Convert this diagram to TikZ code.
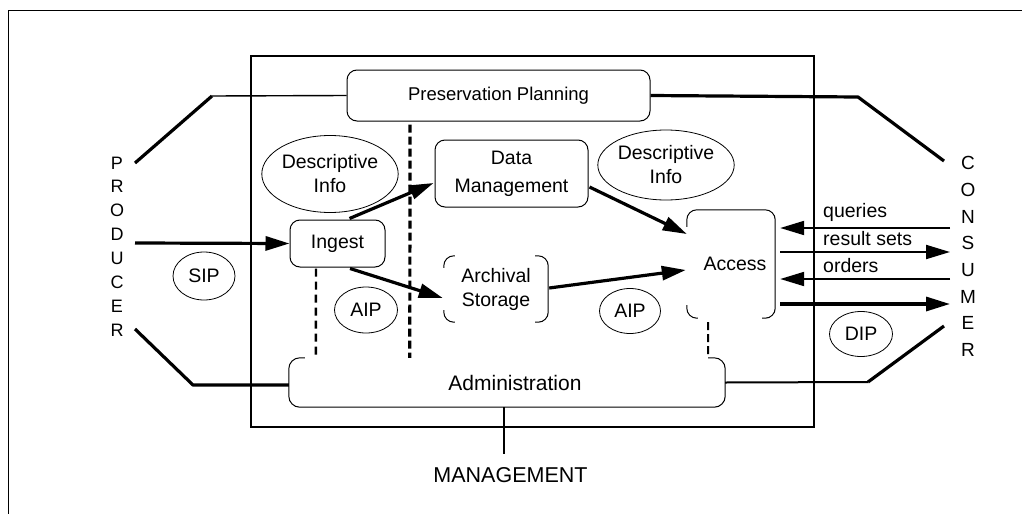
\documentclass[tikz,border=0pt]{standalone}
\usepackage{fontspec}
\setmainfont{Liberation Sans}
\usetikzlibrary{arrows.meta,calc,shapes.geometric}
\newcommand\lblfont{\fontsize{19.5}{24}\selectfont}
\begin{document}
\begin{tikzpicture}[x=1pt,y=-1pt,
  ln/.style={line width=1pt},
  med/.style={line width=2pt},
  thk/.style={line width=3.2pt},
  arr/.style={-{Triangle[length=24pt,width=14pt]}},
  lbl/.style={font=\lblfont, inner sep=0pt, align=center},
  bx/.style={lbl, draw, line width=1pt, rounded corners=10pt},
  bxn/.style={lbl, draw=none},
  ell/.style={lbl, ellipse, draw, line width=0.8pt}]
\useasboundingbox (0,0) rectangle (1022,514);
% outer frame (cut at the right and bottom)
\draw[ln] (1022,10) -- (8,10) -- (8,514);
% inner frame
\draw[line width=1.3pt] (251,56) rectangle (814,427);

% boxes
\node[bx, minimum width=303pt, minimum height=51pt, font=\fontsize{18.5}{22}\selectfont] (pp) at (498.5,95.5) {Preservation Planning};
\node[bx, minimum width=95pt, minimum height=47pt] (ingest) at (337.5,243.5) {Ingest};
\node[bx, minimum width=153pt, minimum height=67pt, font=\fontsize{19.5}{28}\selectfont] (dm) at (511.5,173.5) {Data\\Management};
\node[bxn, minimum width=104pt, minimum height=66pt] (arch) at (496,289) {Archival\\Storage};
\node[bxn, minimum width=88pt, minimum height=108pt] (acc) at (731,264) {\hspace*{8pt}Access};
\node[bxn, minimum width=436pt, minimum height=49pt, font=\fontsize{21}{24}\selectfont] (adm) at (507,382.5) {\hspace*{16pt}Administration};

% partial outlines
\draw[ln, rounded corners=10pt] ($(arch.north west)+(11,0)$) -- (arch.north west) -- ($(arch.north west)+(0,12)$);
\draw[ln, rounded corners=10pt] ($(arch.south west)+(0,-12)$) -- (arch.south west) -- ($(arch.south west)+(11,0)$);
\draw[ln, rounded corners=10pt] ($(arch.north east)+(-13,0)$) -- (arch.north east) -- (arch.south east) -- ($(arch.south east)+(-13,0)$);
\draw[ln, rounded corners=10pt] ($(acc.north west)+(0,17)$) -- (acc.north west) -- (acc.north east) -- (acc.south east) -- ($(acc.south east)+(-13,0)$);
\draw[ln, rounded corners=10pt] ($(acc.south west)+(0,-13)$) -- (acc.south west) -- ($(acc.south west)+(11,0)$);
\draw[ln, rounded corners=11pt] ($(adm.north east)+(-17,0)$) -- (adm.north east) -- (adm.south east) -- (adm.south west) -- (adm.north west) -- ($(adm.north west)+(16,0)$);

% ellipses
\node[ell, minimum width=120pt, minimum height=77pt] (di1) at (330,174) {Descriptive\\Info};
\node[ell, minimum width=121pt, minimum height=70pt] (di2) at (666,165) {Descriptive\\Info};
\node[ell, minimum width=62pt, minimum height=48pt] (sip) at (204,276) {SIP};
\node[ell, minimum width=63pt, minimum height=46pt] (aip1) at (366,310) {AIP};
\node[ell, minimum width=61pt, minimum height=45pt] (aip2) at (630,311) {AIP};
\node[ell, minimum width=63pt, minimum height=45pt] (dip) at (861,334) {DIP};

% side labels
\node[lbl, font=\fontsize{18}{23.9}\selectfont] (prod) at (117,246.5) {P\\R\\O\\D\\U\\C\\E\\R};
\node[lbl, font=\fontsize{19}{26.7}\selectfont] (cons) at (968,256.5) {C\\O\\N\\S\\U\\M\\E\\R};
\node[lbl, font=\fontsize{21.5}{24}\selectfont] (mgmt) at (510.5,475) {MANAGEMENT};

% connector end points
\coordinate (pl) at (212,96);
\coordinate (prodTop) at (135,163);
\coordinate (prodMid) at (135,243);
\coordinate (prodBot) at (135,329);
\coordinate (pbl) at (193,385);
\coordinate (pr) at (858,97);
\coordinate (consTop) at (944,161);
\coordinate (pbr) at (868,382);
\coordinate (consBot) at (944,326);
\coordinate (cq) at (950,228);
\coordinate (cr) at (950,252);
\coordinate (co) at (950,279);
\coordinate (cd) at (950,304);

% lines to producer / consumer / management
\draw[line width=1.4pt] (pp.west) -- (pl);
\draw[thk] (pl) -- (prodTop);
\draw[thk, line join=round] (pp.east) -- (pr) -- (consTop);
\draw[thk, line join=round] (prodBot) -- (pbl) -- ($(adm.west)+(0,2.5)$);
\draw[med] (adm.east) -- (pbr);
\draw[thk] (pbr) -- (consBot);
\draw[med] ($(adm.south)+(-3,0)$) -- ($(adm.south)+(-3,47)$);

% dashed separators
\draw[line width=2.4pt, dash pattern=on 8pt off 5pt] ($(ingest.south)+(-21.5,1)$) -- ($(adm.north west)+(27,0)$);
\draw[thk, dash pattern=on 8pt off 4pt] ($(pp.south)+(-88.5,3)$) -- ($(adm.north west)+(121,0)$);
\draw[med, dash pattern=on 8pt off 4pt] ($(acc.south)+(-23,4)$) -- ($(adm.north east)+(-17,0)$);

% flows
\draw[thk, arr] (prodMid) -- (ingest.west);
\draw[thk, arr] ($(ingest.north)+(12,-1)$) -- ($(dm.west)+(-1,9.5)$);
\draw[thk, arr] ($(ingest.south)+(12.5,1)$) -- ($(arch.west)+(-1,9)$);
\draw[thk, arr] ($(dm.east)+(1,13.5)$) -- ($(acc.west)+(0,-30)$);
\draw[thk, arr] ($(arch.east)+(1,-1)$) -- ($(acc.west)+(-1,6)$);
\draw[med, arr] (cq) -- ($(acc.east)+(5,-36)$);
\draw[med, arr] ($(acc.east)+(5,-12)$) -- (cr);
\draw[med, arr] (co) -- ($(acc.east)+(5,15)$);
\draw[thk, arr] ($(acc.east)+(5,40)$) -- (cd);

% flow labels
\node[lbl, anchor=base west] (lq) at (823,217) {queries};
\node[lbl, anchor=base west] (lr) at (823,245) {result sets};
\node[lbl, anchor=base west] (lo) at (823,272) {orders};
\end{tikzpicture}
\end{document}
